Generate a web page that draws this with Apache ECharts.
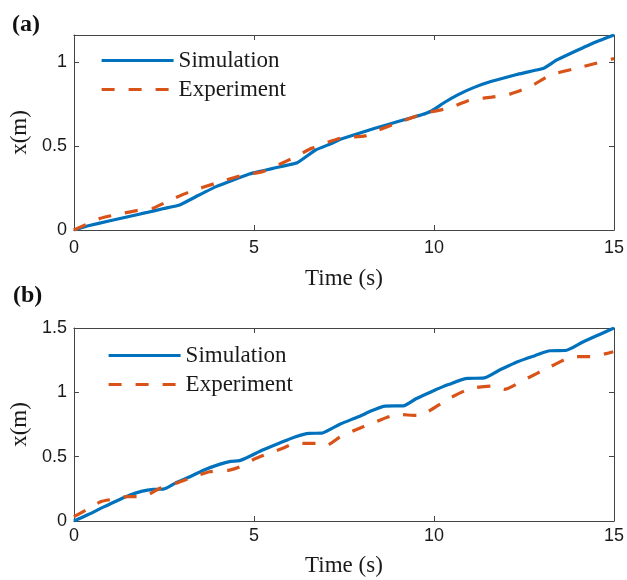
<!DOCTYPE html>
<html>
<head>
<meta charset="utf-8">
<script src="https://cdn.jsdelivr.net/npm/echarts@6/dist/echarts.min.js"></script>
<style>
html,body{margin:0;padding:0;background:#fff;}
#chart{width:627px;height:580px;}
</style>
</head>
<body>
<div id="chart"></div>
<script>
// ---- Data ----
var seriesNames = ['Simulation', 'Experiment'];
var xTicks = [0, 5, 10, 15];

// Panel (a)
var simA_t = [0, 0.37, 1.0, 1.5, 2.0, 2.5, 2.94, 3.45, 3.95, 4.87, 5.6, 6.2, 6.71, 7.17, 7.4, 8.36, 9.0, 9.65, 9.93, 10.3, 10.66, 11.1, 11.58, 12.3, 13.05, 13.4, 13.79, 14.4, 15];
var simA_x = [0, 0.024, 0.055, 0.079, 0.103, 0.128, 0.149, 0.205, 0.258, 0.333, 0.37, 0.40, 0.476, 0.516, 0.54, 0.605, 0.645, 0.685, 0.708, 0.76, 0.804, 0.847, 0.883, 0.925, 0.962, 1.01, 1.05, 1.11, 1.16];
var expA_t = [0, 0.74, 1.3, 1.84, 2.2, 2.7, 3.22, 3.95, 4.69, 5.24, 5.7, 6.16, 6.6, 7.4, 8.09, 8.46, 9.1, 9.74, 10.39, 11.03, 11.6, 12.13, 12.68, 13.23, 14.15, 15];
var expA_x = [0, 0.07, 0.097, 0.119, 0.13, 0.18, 0.228, 0.279, 0.327, 0.347, 0.39, 0.436, 0.486, 0.546, 0.56, 0.595, 0.645, 0.694, 0.724, 0.774, 0.79, 0.81, 0.853, 0.922, 0.972, 1.02];

// Panel (b)
var simB_t = [0, 0.4, 0.83, 1.2, 1.54, 1.9, 2.21, 2.48, 2.85, 3.22, 3.6, 4.04, 4.35, 4.6, 4.9, 5.24, 5.7, 6.16, 6.53, 6.89, 7.17, 7.4, 7.9, 8.3, 8.64, 9.14, 9.5, 9.93, 10.4, 10.94, 11.35, 11.8, 12.32, 12.8, 13.23, 13.65, 14.15, 14.6, 15];
var simB_x = [0, 0.05, 0.11, 0.158, 0.20, 0.232, 0.246, 0.248, 0.30, 0.344, 0.395, 0.44, 0.463, 0.469, 0.505, 0.552, 0.605, 0.655, 0.681, 0.683, 0.72, 0.754, 0.81, 0.86, 0.893, 0.895, 0.95, 1.005, 1.06, 1.109, 1.11, 1.17, 1.238, 1.285, 1.323, 1.325, 1.393, 1.45, 1.50];
var expB_t = [0, 0.4, 0.74, 1.1, 1.47, 1.84, 2.1, 2.39, 2.8, 3.22, 3.77, 4.32, 4.6, 5.0, 5.42, 5.8, 6.16, 6.71, 6.98, 7.4, 7.8, 8.27, 9.0, 9.56, 9.83, 10.48, 11.03, 11.67, 11.95, 12.5, 13.23, 13.88, 14.34, 14.98];
var expB_x = [0.034, 0.095, 0.15, 0.17, 0.189, 0.189, 0.21, 0.254, 0.29, 0.332, 0.383, 0.396, 0.42, 0.48, 0.526, 0.565, 0.604, 0.604, 0.583, 0.655, 0.705, 0.759, 0.828, 0.82, 0.849, 0.961, 1.031, 1.049, 1.023, 1.096, 1.199, 1.277, 1.277, 1.316];

var yMaxA = 1.16, yMaxB = 1.5, yInterval = 0.5;

function zip(t, v) { return t.map(function (ti, i) { return [ti, v[i]]; }); }

var BLUE = '#0072BD', ORANGE = '#D95319';
var AXC = '#444';
var DASH = [13, 14];
var SERIF = '"Liberation Serif", "Times New Roman", serif';
var SANS = '"Liberation Sans", Arial, sans-serif';

function xAx(grid, pos) {
  return {
    type: 'value', gridIndex: grid, position: pos,
    min: xTicks[0], max: xTicks[xTicks.length - 1], interval: 5,
    axisLine: { show: true, onZero: false, lineStyle: { color: AXC, width: 1 } },
    axisTick: { show: true, inside: true, length: 5, lineStyle: { color: AXC } },
    axisLabel: { show: pos === 'bottom', color: '#1a1a1a', fontFamily: SANS, fontSize: 18, margin: grid === 0 ? 9 : 6 },
    splitLine: { show: false },
    name: pos === 'bottom' ? 'Time (s)' : '',
    nameLocation: 'middle', nameGap: grid === 0 ? 37 : 33,
    nameTextStyle: { fontFamily: SERIF, fontSize: 23, color: '#1a1a1a' }
  };
}
function yAx(grid, pos, max) {
  return {
    type: 'value', gridIndex: grid, position: pos,
    min: 0, max: max, interval: yInterval,
    axisLine: { show: true, onZero: false, lineStyle: { color: AXC, width: 1 } },
    axisTick: { show: true, inside: true, length: 5, lineStyle: { color: AXC } },
    axisLabel: { show: pos === 'left', color: '#1a1a1a', fontFamily: SANS, fontSize: 18, margin: 7,
      showMaxLabel: grid === 1,
      formatter: function (v) { return (Math.abs(v / yInterval - Math.round(v / yInterval)) < 1e-6) ? String(v) : ''; } },
    splitLine: { show: false },
    name: pos === 'left' ? 'x(m)' : '',
    nameLocation: 'middle', nameGap: 34, nameRotate: 90,
    nameTextStyle: { fontFamily: SERIF, fontSize: 23, color: '#1a1a1a' }
  };
}
function line(name, data, xi, yi, color, dashed, smooth) {
  return {
    name: name, type: 'line', data: data, xAxisIndex: xi, yAxisIndex: yi,
    showSymbol: false, symbol: 'none', smooth: smooth,
    lineStyle: { color: color, width: 3.2, type: dashed ? DASH : 'solid' },
    itemStyle: { color: color }, animation: false
  };
}
function legendAt(left, top) {
  return {
    data: seriesNames, orient: 'vertical', left: left, top: top, padding: 0,
    itemWidth: 72, itemHeight: 22, itemGap: 6, selectedMode: false,
    itemStyle: { opacity: 0 },
    lineStyle: { width: 3.2 },
    textStyle: { fontFamily: SERIF, fontSize: 23, color: '#1a1a1a', lineHeight: 22 }
  };
}

var chart = echarts.init(document.getElementById('chart'), null, { renderer: 'canvas' });
chart.setOption({
  backgroundColor: '#fff',
  animation: false,
  grid: [
    { left: 70, right: 13, top: 35, height: 195 },
    { left: 70, right: 13, top: 328, height: 193 }
  ],
  xAxis: [xAx(0, 'bottom'), xAx(0, 'top'), xAx(1, 'bottom'), xAx(1, 'top')],
  yAxis: [yAx(0, 'left', yMaxA), yAx(0, 'right', yMaxA), yAx(1, 'left', yMaxB), yAx(1, 'right', yMaxB)],
  legend: [legendAt(100, 49), legendAt(107, 344)],
  graphic: [
    { type: 'text', left: 12, top: 13, style: { text: '(a)', font: 'bold 24px ' + SERIF, fill: '#111' } },
    { type: 'text', left: 13, top: 284, style: { text: '(b)', font: 'bold 24px ' + SERIF, fill: '#111' } }
  ],
  series: [
    line(seriesNames[0], zip(simA_t, simA_x), 0, 0, BLUE, false, 0.1),
    line(seriesNames[1], zip(expA_t, expA_x), 0, 0, ORANGE, true, 0.15),
    line(seriesNames[0], zip(simB_t, simB_x), 2, 2, BLUE, false, 0.25),
    line(seriesNames[1], zip(expB_t, expB_x), 2, 2, ORANGE, true, 0.2)
  ]
});
</script>
</body>
</html>
